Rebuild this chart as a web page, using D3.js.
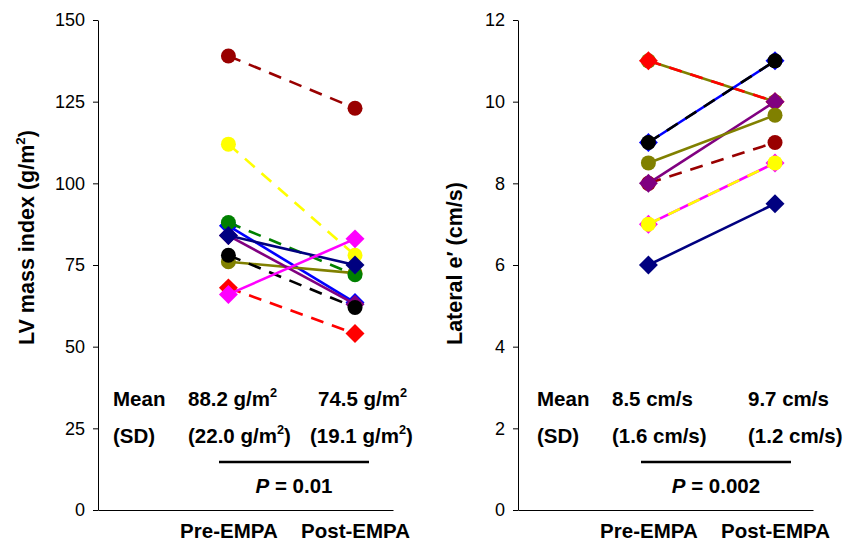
<!DOCTYPE html>
<html>
<head>
<meta charset="utf-8">
<script src="https://cdn.jsdelivr.net/npm/d3@7"></script>
<style>
  body { margin: 0; background: #fff; }
  svg text { font-family: "Liberation Sans", Arial, sans-serif; }
</style>
</head>
<body>
<svg id="chart" width="846" height="542"></svg>
<script>
// values, one entry per patient (pre, post)
const groups = ["Pre-EMPA", "Post-EMPA"];

const lvmiPre = [87, 76, 84, 68, 112, 88, 84, 78, 66, 139];
const lvmiPost = [63.5, 72.5, 63, 54, 78, 72, 75, 62, 83, 123];
const lvmiTicks = [0, 25, 50, 75, 100, 125, 150];
const lvmiStats = [["Mean", "88.2 g/m²", "74.5 g/m²"], ["(SD)", "(22.0 g/m²)", "(19.1 g/m²)"]];
const lvmiP = "0.01";

const ePre = [11, 11, 9, 9, 8, 8, 8.5, 7, 7, 6];
const ePost = [10, 10, 11, 11, 9, 10, 9.67, 8.5, 8.5, 7.5];
const eTicks = [0, 2, 4, 6, 8, 10, 12];
const eStats = [["Mean", "8.5 cm/s", "9.7 cm/s"], ["(SD)", "(1.6 cm/s)", "(1.2 cm/s)"]];
const eP = "0.002";

// styling of each patient's line, kept apart from the values
const lvmiColor = ["#0000ff", "#808000", "#800080", "#ff0000", "#ffff00", "#008000", "#000080", "#000000", "#ff00ff", "#990000"];
const lvmiMarker = ["d", "c", "d", "d", "c", "c", "d", "c", "d", "c"];
const lvmiDashed = [0, 0, 0, 1, 1, 1, 0, 1, 0, 1];

const eColor = ["#808000", "#ff0000", "#0000ff", "#000000", "#990000", "#800080", "#808000", "#ff00ff", "#ffff00", "#000080"];
const eMarker = ["c", "d", "d", "c", "c", "d", "c", "d", "c", "d"];
const eDashed = [0, 1, 0, 1, 1, 0, 0, 0, 1, 0];

const svg = d3.select("#chart");
const plotTop = 20, plotBottom = 510, axisW = 295;

// write a string into a text node, turning "²" into a raised small 2
function supText(sel, str, size) {
    const parts = str.split("²");
    parts.forEach((p, i) => {
        if (i > 0) {
            sel.append("tspan").attr("dy", -size * 0.42).style("font-size", (size * 0.62) + "px").text("2");
            sel.append("tspan").attr("dy", size * 0.42).text(p);
        } else {
            sel.append("tspan").text(p);
        }
    });
}

function panel(opt) {
    const g = svg.append("g").attr("transform", `translate(${opt.x0},0)`);

    const x = d3.scaleLinear().domain([-0.03, 2.3]).range([0, axisW]);
    const y = d3.scaleLinear().domain(opt.yDomain).range([plotBottom, plotTop]);

    const yAxis = g.append("g")
        .call(d3.axisLeft(y).tickValues(opt.ticks).tickSize(5).tickSizeOuter(0).tickPadding(8));
    yAxis.selectAll("text").style("font-size", "18px").attr("fill", "#000");
    yAxis.selectAll("line, path").attr("stroke", "#000");

    const xAxis = g.append("g")
        .attr("transform", `translate(0,${plotBottom})`)
        .call(d3.axisBottom(x).tickValues([1, 2]).tickFormat((d, i) => groups[i]).tickSize(0).tickSizeOuter(0).tickPadding(13));
    xAxis.selectAll("text").style("font-size", "20.5px").style("font-weight", "bold").attr("fill", "#000");
    xAxis.select("path").attr("stroke", "#000");

    const title = g.append("text")
        .attr("transform", `translate(${opt.titleX},345) rotate(-90)`)
        .style("font-size", "21.5px")
        .style("font-weight", "bold");
    supText(title, opt.title, 21.5);

    const diamond = d3.symbol().type(d3.symbolSquare).size(180)();

    opt.pre.forEach((pre, i) => {
        const pts = [[1, pre], [2, opt.post[i]]];
        const s = g.append("g");
        s.append("line")
            .attr("x1", x(1)).attr("y1", y(pre))
            .attr("x2", x(2)).attr("y2", y(opt.post[i]))
            .attr("stroke", opt.color[i])
            .attr("stroke-width", 2.6)
            .attr("stroke-dasharray", opt.dashed[i] ? "13,9" : null);
        pts.forEach(p => {
            if (opt.marker[i] === "c") {
                s.append("circle")
                    .attr("cx", x(p[0])).attr("cy", y(p[1]))
                    .attr("r", 7.5)
                    .attr("fill", opt.color[i]);
            } else {
                s.append("path")
                    .attr("d", diamond)
                    .attr("transform", `translate(${x(p[0])},${y(p[1])}) rotate(45)`)
                    .attr("fill", opt.color[i]);
            }
        });
    });

    const rows = [406, 443];
    opt.stats.forEach((row, r) => {
        row.forEach((t, c) => {
            const tx = g.append("text")
                .attr("x", opt.statX[r][c])
                .attr("y", rows[r])
                .style("font-size", "20.5px")
                .style("font-weight", "bold");
            supText(tx, t, 20.5);
        });
    });

    g.append("line")
        .attr("x1", opt.barX[0]).attr("x2", opt.barX[1])
        .attr("y1", 462).attr("y2", 462)
        .attr("stroke", "#000").attr("stroke-width", 2.5);

    const pt = g.append("text")
        .attr("x", (opt.barX[0] + opt.barX[1]) / 2)
        .attr("y", 493)
        .attr("text-anchor", "middle")
        .style("font-size", "20.5px")
        .style("font-weight", "bold");
    pt.append("tspan").style("font-style", "italic").text("P");
    pt.append("tspan").text(" = " + opt.p);
}

panel({
    x0: 98, yDomain: [0, 150], ticks: lvmiTicks, title: "LV mass index (g/m²)", titleX: -64,
    pre: lvmiPre, post: lvmiPost, color: lvmiColor, marker: lvmiMarker, dashed: lvmiDashed,
    stats: lvmiStats, statX: [[15, 90, 220], [15, 90, 212]], barX: [121, 271], p: lvmiP
});

panel({
    x0: 518, yDomain: [0, 12], ticks: eTicks, title: "Lateral e′ (cm/s)", titleX: -56,
    pre: ePre, post: ePost, color: eColor, marker: eMarker, dashed: eDashed,
    stats: eStats, statX: [[19, 94, 230], [19, 94, 230]], barX: [123, 273], p: eP
});
</script>
</body>
</html>
